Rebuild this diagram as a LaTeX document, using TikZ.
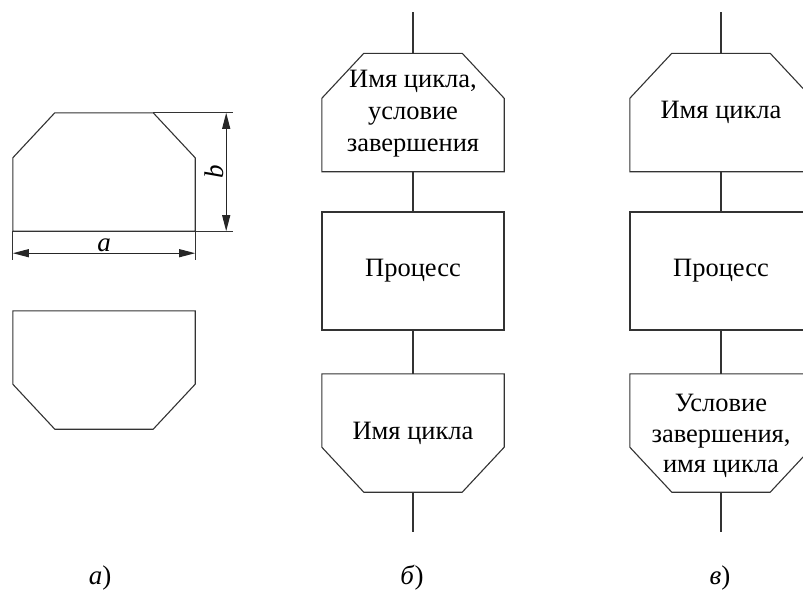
\documentclass[tikz,border=0pt]{standalone}
\usepackage{fontspec}
\setmainfont{Liberation Serif}
\usetikzlibrary{arrows.meta}
\newcommand\loopbegin[1]{\draw[shp] ([yshift=-45pt]#1.north west) -- ([xshift=42pt]#1.north west) -- ([xshift=-42pt]#1.north east) -- ([yshift=-45pt]#1.north east) -- (#1.south east) -- (#1.south west) -- cycle;}
\newcommand\loopend[1]{\draw[shp] (#1.north west) -- (#1.north east) -- ([yshift=45pt]#1.south east) -- ([xshift=-42pt]#1.south east) -- ([xshift=42pt]#1.south west) -- ([yshift=45pt]#1.south west) -- cycle;}
\begin{document}
\begin{tikzpicture}[x=1pt,y=-1pt,
  shp/.style={draw=black!80,line width=1.1pt,line join=miter},
  ln/.style={draw=black!80,line width=1.1pt},
  blk/.style={rectangle,minimum width=182pt,minimum height=118pt,inner sep=0pt,align=center,
    font=\fontsize{26.5}{32}\selectfont},
  dim/.style={draw=black!85,line width=1.1pt,{Triangle[length=16pt,width=8pt]}-{Triangle[length=16pt,width=8pt]}},
  lbl/.style={font=\fontsize{27}{30}\selectfont,inner sep=0pt}]
\useasboundingbox (0,0) rectangle (803,597);
\clip (0,0) rectangle (803,597);
% panel a
\node[blk] (A1) at (104,172) {};
\node[blk] (A2) at (104,370) {};
\loopbegin{A1}
\loopend{A2}
\draw[ln] ([xshift=-42pt]A1.north east) -- ([xshift=38pt]A1.north east) coordinate (Bt);
\draw[ln] (A1.south east) -- ([xshift=38pt]A1.south east) coordinate (Bb);
\draw[ln] (A1.south west) -- ([yshift=-29pt]A1.south west) coordinate (Al);
\draw[ln] (A1.south east) -- ([yshift=-29pt]A1.south east) coordinate (Ar);
\coordinate (d1) at ([xshift=-7pt]Bt);
\coordinate (d2) at ([xshift=-7pt]Bb);
\coordinate (h1) at ([yshift=7pt]Al);
\coordinate (h2) at ([yshift=7pt]Ar);
\draw[dim] (d1) -- (d2);
\draw[dim] (h1) -- (h2);
\node[lbl,anchor=base] (la) at (104,251) {\textit{a}};
\node[lbl,anchor=base,rotate=90] (lb) at (223,172) {\textit{b}};
% panel b
\node[blk] (B1) at (413,112.5) {};
\node[align=center,inner sep=0pt,font=\fontsize{26.5}{32}\selectfont] (B1t) at (413,114) {Имя цикла,\\условие\\завершения};
\node[blk,draw=black!80,line width=1.1pt] (B2) at (413,271) {Процесс};
\node[blk] (B3) at (413,433) {Имя цикла};
\loopbegin{B1}
\loopend{B3}
\coordinate (Bin) at (413,12);
\coordinate (Bout) at (413,532);
\draw[ln] (Bin) -- (B1.north);
\draw[ln] (B1.south) -- (B2.north);
\draw[ln] (B2.south) -- (B3.north);
\draw[ln] (B3.south) -- (Bout);
% panel v
\node[blk] (C1) at (721,112.5) {Имя цикла};
\node[blk,draw=black!80,line width=1.1pt] (C2) at (721,271) {Процесс};
\node[blk] (C3) at (721,433) {};
\node[align=center,inner sep=0pt,font=\fontsize{26.5}{30.5}\selectfont] (C3t) at (721,436) {Условие\\завершения,\\имя цикла};
\loopbegin{C1}
\loopend{C3}
\coordinate (Cin) at (721,12);
\coordinate (Cout) at (721,532);
\draw[ln] (Cin) -- (C1.north);
\draw[ln] (C1.south) -- (C2.north);
\draw[ln] (C2.south) -- (C3.north);
\draw[ln] (C3.south) -- (Cout);
% captions
\node[lbl,anchor=base] (ca) at (100,584) {\textit{а})};
\node[lbl,anchor=base] (cb) at (412,584) {\textit{б})};
\node[lbl,anchor=base] (cv) at (720,584) {\textit{в})};
\end{tikzpicture}
\end{document}
